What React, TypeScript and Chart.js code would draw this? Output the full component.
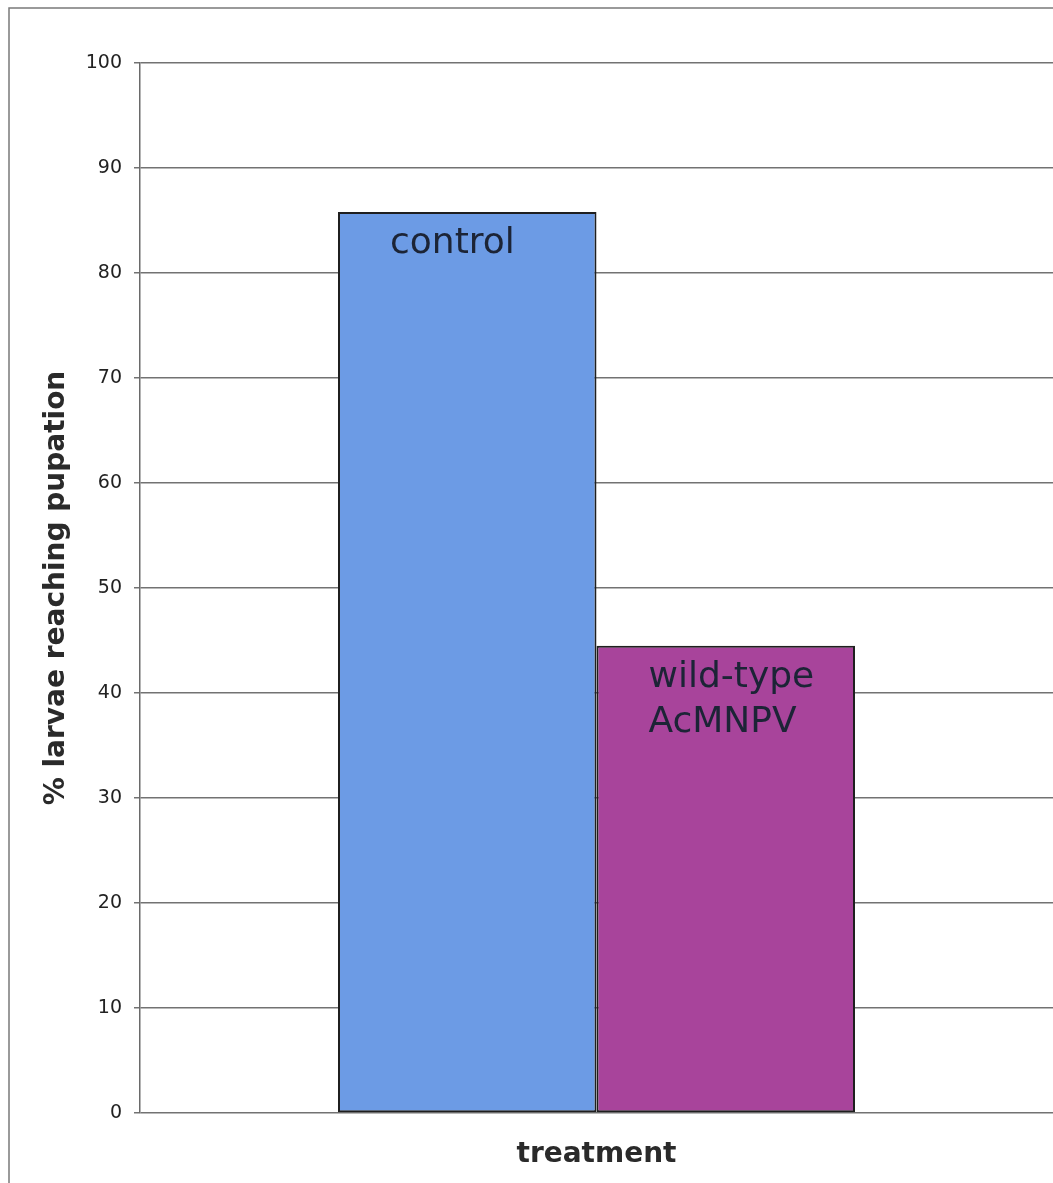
import React, { useEffect, useRef } from "react";
import { Chart, registerables } from "chart.js";

Chart.register(...registerables);

const categories: string[] = [""];
const seriesNames: string[] = ["control", "wild-type AcMNPV"];
const barLabelLines: string[][] = [["control"], ["wild-type", "AcMNPV"]];
const controlValues: number[] = [85.8];
const wildTypeValues: number[] = [44.5];
const yTicks: number[] = [0, 10, 20, 30, 40, 50, 60, 70, 80, 90, 100];
const xTitle = "treatment";
const yTitle = "% larvae reaching pupation";

const W = 1053;
const H = 1183;

const framePlugin = {
  id: "frame",
  beforeDraw(chart: any) {
    const ctx = chart.ctx;
    ctx.save();
    ctx.fillStyle = "#ffffff";
    ctx.fillRect(0, 0, chart.width, chart.height);
    ctx.strokeStyle = "#7a7a7a";
    ctx.lineWidth = 1.5;
    ctx.strokeRect(9, 8, chart.width + 20, chart.height + 20);
    ctx.restore();
  },
};

const barLabelPlugin = {
  id: "barLabels",
  afterDatasetsDraw(chart: any) {
    const ctx = chart.ctx;
    ctx.save();
    ctx.font = "36px 'DejaVu Sans'";
    ctx.fillStyle = "#1c2436";
    ctx.textAlign = "left";
    ctx.textBaseline = "alphabetic";
    chart.data.datasets.forEach((ds: any, i: number) => {
      const meta = chart.getDatasetMeta(i);
      const bar: any = meta.data[0];
      if (!bar) return;
      const left = bar.x - bar.width / 2;
      const lines = barLabelLines[i] || [];
      lines.forEach((line, j) => {
        ctx.fillText(line, left + 52, bar.y + 41 + j * 45);
      });
    });
    ctx.restore();
  },
};

export default function App() {
  const ref = useRef<HTMLCanvasElement | null>(null);

  useEffect(() => {
    if (!ref.current) return;
    const chart = new Chart(ref.current, {
      type: "bar",
      data: {
        labels: categories,
        datasets: [
          {
            label: seriesNames[0],
            data: controlValues,
            backgroundColor: "#6c9be5",
            borderColor: "#1f1f1f",
            borderWidth: 2,
            borderSkipped: false,
          },
          {
            label: seriesNames[1],
            data: wildTypeValues,
            backgroundColor: "#a8449b",
            borderColor: "#1f1f1f",
            borderWidth: 2,
            borderSkipped: false,
          },
        ],
      },
      options: {
        responsive: false,
        animation: false,
        devicePixelRatio: 1,
        layout: { padding: { top: 63, right: 0, left: 0, bottom: 0 } },
        datasets: {
          bar: { categoryPercentage: 517 / 913, barPercentage: 1.0 },
        },
        plugins: {
          legend: { display: false },
          tooltip: { enabled: false },
        },
        scales: {
          x: {
            grid: { display: false },
            border: { display: false },
            ticks: { display: false },
            title: {
              display: true,
              text: xTitle,
              color: "#2a2a2a",
              font: { family: "'DejaVu Sans'", size: 28, weight: "bold" },
              padding: { top: 0, bottom: 11 },
            },
            afterFit(scale: any) {
              scale.height = 70;
            },
          },
          y: {
            min: 0,
            max: 100,
            afterBuildTicks(scale: any) {
              scale.ticks = yTicks.map((v) => ({ value: v }));
            },
            grid: {
              color: "#727272",
              lineWidth: 1.5,
              drawTicks: true,
              tickLength: 6,
            },
            border: { display: true, color: "#6a6a6a", width: 1.5 },
            ticks: {
              color: "#222222",
              padding: 12,
              font: { family: "'DejaVu Sans'", size: 19 },
            },
            title: {
              display: true,
              text: yTitle,
              color: "#2a2a2a",
              font: { family: "'DejaVu Sans'", size: 28, weight: "bold" },
              padding: { top: 40, bottom: 0 },
            },
            afterFit(scale: any) {
              scale.width = 140;
            },
          },
        },
      },
      plugins: [framePlugin, barLabelPlugin],
    });
    return () => chart.destroy();
  }, []);

  return (
    <div style={{ position: "absolute", left: 0, top: 0, width: W, height: H }}>
      <canvas ref={ref} width={W} height={H} style={{ display: "block", width: W, height: H }} />
    </div>
  );
}
